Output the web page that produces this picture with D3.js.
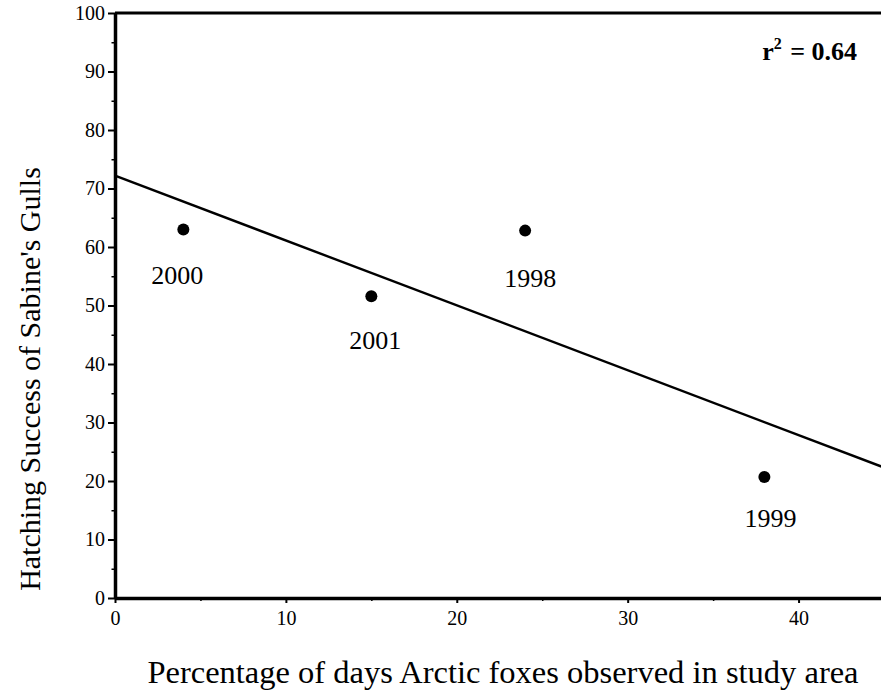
<!DOCTYPE html>
<html><head><meta charset="utf-8">
<script src="https://cdn.jsdelivr.net/npm/d3@7"></script>
<style>body{margin:0;background:#fff}svg{display:block}text{font-family:"Liberation Serif","Times New Roman",serif;fill:#000}</style>
</head><body>
<svg id="c" width="881" height="694"></svg>
<script>
const years = ["2000","2001","1998","1999"];
const foxDays = [4, 15, 24, 38];
const hatching = [63, 51.6, 62.8, 20.7];
const trendX = [0, 45];
const trendY = [72.2, 22.3];
const xTicks = [0,10,20,30,40];
const yTicks = [0,10,20,30,40,50,60,70,80,90,100];
const r2Label = "0.64";

// layout-only: label offsets from their points (px)
const labelOffset = {"2000":[-6,55], "2001":[4,53], "1998":[5,56], "1999":[6,50]};

const svg = d3.select("#c");
const x = d3.scaleLinear().domain([0,45]).range([115, 884]);
const y = d3.scaleLinear().domain([0,100]).range([598, 13]);

// top border
svg.append("line").attr("x1",x(0)).attr("x2",881).attr("y1",y(100)).attr("y2",y(100))
  .attr("stroke","#000").attr("stroke-width",3);

function styleTicks(g){
  g.selectAll("text").style("font-family","'Liberation Serif',serif").style("font-size","20px");
}

// x axis
const xa = svg.append("g").attr("transform",`translate(0,${y(0)})`)
  .call(d3.axisBottom(x).tickValues(xTicks).tickSize(5).tickSizeOuter(0).tickPadding(8));
xa.select(".domain").attr("stroke-width",3.5);
xa.selectAll(".tick line").attr("stroke-width",2);
styleTicks(xa);
svg.append("g").attr("transform",`translate(0,${y(0)})`)
  .call(d3.axisBottom(x).tickValues([5,15,25,35]).tickSize(3).tickFormat(""))
  .call(g=>g.select(".domain").remove()).selectAll("line").attr("stroke-width",1.5);

// y axis
const ya = svg.append("g").attr("transform",`translate(${x(0)},0)`)
  .call(d3.axisLeft(y).tickValues(yTicks).tickSize(7).tickSizeOuter(0).tickPadding(3));
ya.select(".domain").attr("stroke-width",3.5);
ya.selectAll(".tick line").attr("stroke-width",2);
styleTicks(ya);
svg.append("g").attr("transform",`translate(${x(0)},0)`)
  .call(d3.axisLeft(y).tickValues([5,15,25,35,45,55,65,75,85,95]).tickSize(3.5).tickFormat(""))
  .call(g=>g.select(".domain").remove()).selectAll("line").attr("stroke-width",1.5);

// trend line
svg.append("line")
  .attr("x1",x(trendX[0])).attr("y1",y(trendY[0]))
  .attr("x2",x(trendX[1])).attr("y2",y(trendY[1]))
  .attr("stroke","#000").attr("stroke-width",2.4);

// points
const pts = foxDays.map((d,i)=>({x:d,y:hatching[i],label:years[i]}));
svg.selectAll("circle.pt").data(pts).enter().append("circle")
  .attr("cx",d=>x(d.x)).attr("cy",d=>y(d.y)).attr("r",6).attr("fill","#000");
svg.selectAll("text.lbl").data(pts).enter().append("text")
  .attr("x",d=>x(d.x)+labelOffset[d.label][0]).attr("y",d=>y(d.y)+labelOffset[d.label][1])
  .attr("text-anchor","middle").style("font-size","26px").text(d=>d.label);

// r2
const r = svg.append("text").attr("x",857).attr("y",60).attr("text-anchor","end")
  .style("font-size","26px").attr("font-weight","bold");
r.append("tspan").text("r");
r.append("tspan").style("font-size","16px").attr("dy",-11).text("2");
r.append("tspan").attr("dy",11).attr("dx",2).text(" = " + r2Label);

// axis titles
svg.append("text").attr("x",503).attr("y",683).attr("text-anchor","middle")
  .style("font-size","32.5px").text("Percentage of days Arctic foxes observed in study area");
svg.append("text").attr("transform","translate(40,379) rotate(-90)").attr("text-anchor","middle")
  .style("font-size","30px").text("Hatching Success of Sabine's Gulls");
</script>
</body></html>
